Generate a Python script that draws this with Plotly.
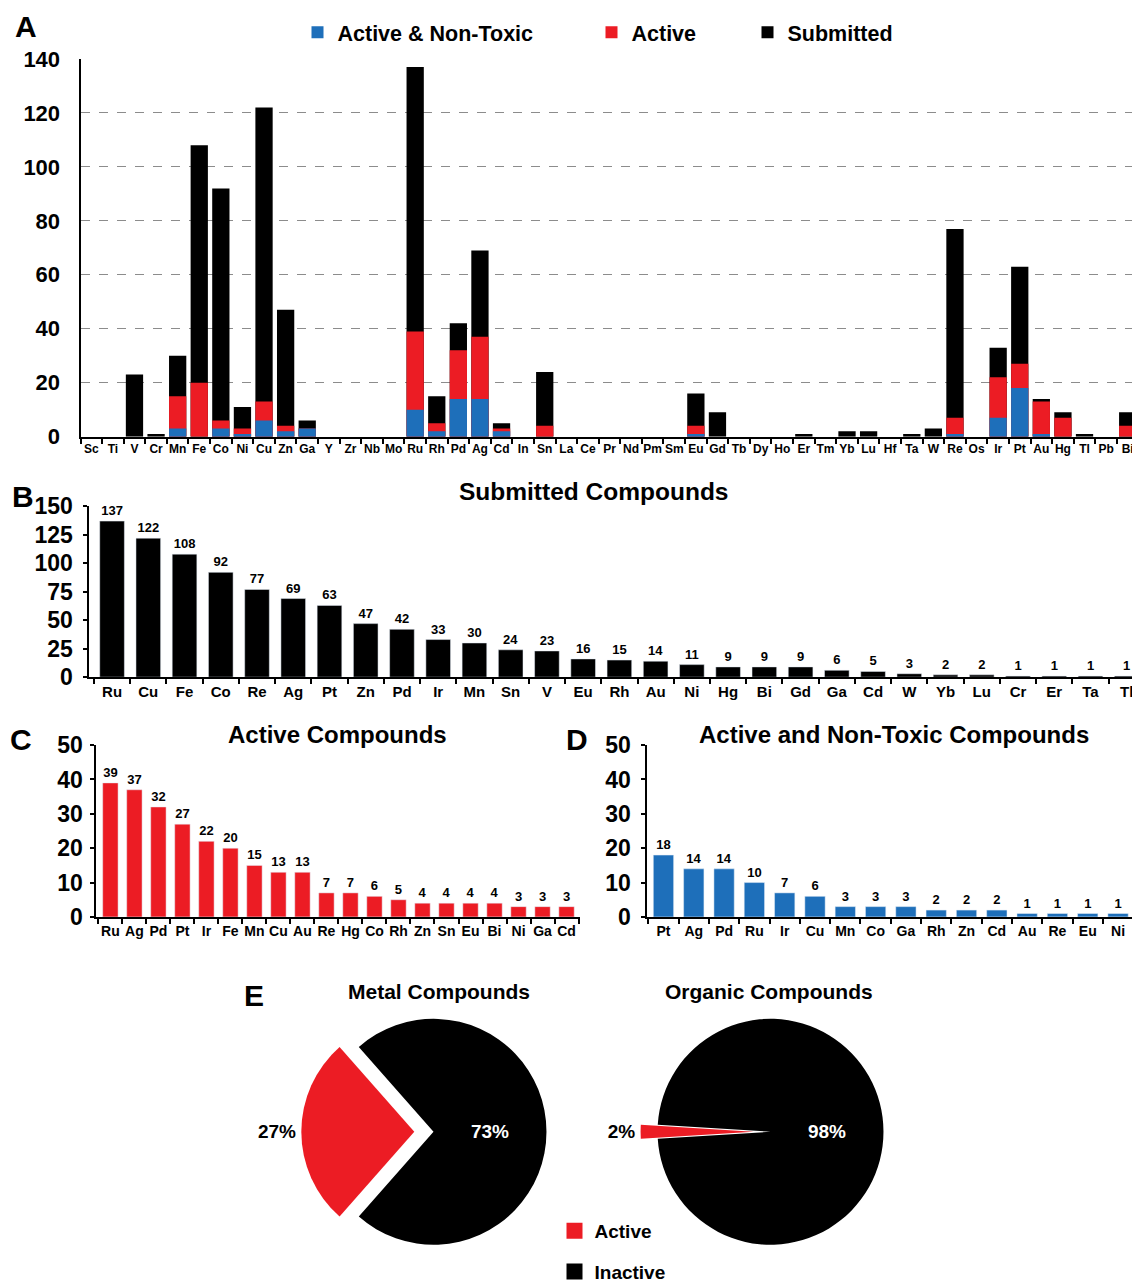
import plotly.graph_objects as go

# ---------------- data ----------------
elements_A = ["Sc","Ti","V","Cr","Mn","Fe","Co","Ni","Cu","Zn","Ga","Y","Zr","Nb","Mo",
              "Ru","Rh","Pd","Ag","Cd","In","Sn","La","Ce","Pr","Nd","Pm","Sm","Eu","Gd",
              "Tb","Dy","Ho","Er","Tm","Yb","Lu","Hf","Ta","W","Re","Os","Ir","Pt","Au",
              "Hg","Tl","Pb","Bi"]
submitted_A = [0,0,23,1,30,108,92,11,122,47,6,0,0,0,0,
               137,15,42,69,5,0,24,0,0,0,0,0,0,16,9,
               0,0,0,1,0,2,2,0,1,3,77,0,33,63,14,
               9,1,0,9]
active_A = [0,0,0,0,15,20,6,3,13,4,3,0,0,0,0,
            39,5,32,37,3,0,4,0,0,0,0,0,0,4,0,
            0,0,0,0,0,0,0,0,0,0,7,0,22,27,13,
            7,0,0,4]
nontoxic_A = [0,0,0,0,3,0,3,1,6,2,3,0,0,0,0,
              10,2,14,14,2,0,0,0,0,0,0,0,0,1,0,
              0,0,0,0,0,0,0,0,0,0,1,0,7,18,1,
              0,0,0,0]

elements_B = ["Ru","Cu","Fe","Co","Re","Ag","Pt","Zn","Pd","Ir","Mn","Sn","V","Eu","Rh",
              "Au","Ni","Hg","Bi","Gd","Ga","Cd","W","Yb","Lu","Cr","Er","Ta","Tl"]
values_B = [137,122,108,92,77,69,63,47,42,33,30,24,23,16,15,14,11,9,9,9,6,5,3,2,2,1,1,1,1]

elements_C = ["Ru","Ag","Pd","Pt","Ir","Fe","Mn","Cu","Au","Re","Hg","Co","Rh","Zn","Sn",
              "Eu","Bi","Ni","Ga","Cd"]
values_C = [39,37,32,27,22,20,15,13,13,7,7,6,5,4,4,4,4,3,3,3]

elements_D = ["Pt","Ag","Pd","Ru","Ir","Cu","Mn","Co","Ga","Rh","Zn","Cd","Au","Re","Eu","Ni"]
values_D = [18,14,14,10,7,6,3,3,3,2,2,2,1,1,1,1]

pie_labels = ["Active", "Inactive"]
metal_pct = [27, 73]
organic_pct = [2, 98]

BLUE = "#1E6FBA"
RED = "#EC1C24"
BLACK = "#000000"
FONT = "Liberation Sans, Arial, sans-serif"

W, H = 1140, 1283
# map target picture coordinates to figure coordinates
def X(px): return px - 7.5
def Y(py): return (py - 21.3) / 0.979
def fx(px): return X(px) / W
def fy(py): return 1 - Y(py) / H

fig = go.Figure()

# ---------------- Panel A ----------------
fig.add_trace(go.Bar(x=elements_A, y=submitted_A, name="Submitted", marker_color=BLACK,
                     width=0.8, xaxis="x", yaxis="y", legend="legend3", marker_line_width=0))
fig.add_trace(go.Bar(x=elements_A, y=active_A, name="Active", marker_color=RED,
                     width=0.8, xaxis="x", yaxis="y", legend="legend2", marker_line_width=0))
fig.add_trace(go.Bar(x=elements_A, y=nontoxic_A, name="Active & Non-Toxic", marker_color=BLUE,
                     width=0.8, xaxis="x", yaxis="y", legend="legend", marker_line_width=0))

# ---------------- Panels B, C, D ----------------
lbl_font = dict(family=FONT, size=13, color="black", weight="bold")
fig.add_trace(go.Bar(x=elements_B, y=values_B, marker_color=BLACK, width=0.68,
                     text=values_B, textposition="outside", textfont=lbl_font,
                     cliponaxis=False, showlegend=False, xaxis="x2", yaxis="y2"))
fig.add_trace(go.Bar(x=elements_C, y=values_C, marker_color=RED, width=0.64,
                     text=values_C, textposition="outside", textfont=lbl_font,
                     cliponaxis=False, showlegend=False, xaxis="x3", yaxis="y3"))
fig.add_trace(go.Bar(x=elements_D, y=values_D, marker_color=BLUE, width=0.67,
                     text=values_D, textposition="outside", textfont=lbl_font,
                     cliponaxis=False, showlegend=False, xaxis="x4", yaxis="y4"))

# ---------------- Panel E ----------------
pie_font_out = dict(family=FONT, size=19, color="black", weight="bold")
pie_font_in = dict(family=FONT, size=19, color="white", weight="bold")
R = 115.5
def pie_domain(cx, cy, pull):
    half = R * (1 + pull)
    x0, x1 = X(cx) - half, X(cx) + half
    y0, y1 = Y(cy) - half, Y(cy) + half
    return dict(x=[x0 / W, x1 / W], y=[1 - y1 / H, 1 - y0 / H])

for vals, cx, pull in [(metal_pct, 433, 0.17), (organic_pct, 770, 0.15)]:
    fig.add_trace(go.Pie(labels=pie_labels, values=vals, sort=False, direction="clockwise",
                         rotation=270 - vals[0] * 3.6 / 2,
                         marker=dict(colors=[RED, BLACK], line=dict(width=0)),
                         pull=[pull, 0], textinfo="percent",
                         textposition=["outside", "inside"],
                         outsidetextfont=pie_font_out, insidetextfont=pie_font_in,
                         domain=pie_domain(cx, 1133, pull), showlegend=False,
                         hoverinfo="label+percent"))

# legend entries of panel E (one group per label so the rows can be spaced)
for lab, col in zip(pie_labels, [RED, BLACK]):
    fig.add_trace(go.Scatter(x=[None], y=[None], mode="markers", name=lab,
                             marker=dict(symbol="square", size=22, color=col),
                             legend="legend4", legendgroup=lab, showlegend=True,
                             xaxis="x4", yaxis="y4", hoverinfo="skip"))

# ---------------- axes ----------------
def xax(x0, x1, rng, size):
    return dict(domain=[max(fx(x0), 0.0), min(fx(x1), 1.0)], type="category", range=rng,
                showline=True, linecolor="black", linewidth=2,
                ticks="outside", tickson="boundaries", ticklen=5, tickwidth=2, tickcolor="black",
                tickangle=0,
                tickfont=dict(family=FONT, size=size, color="black", weight="bold"),
                showgrid=False, zeroline=False, fixedrange=True)

def yax(y0, y1, rng, dtick, anchor, ticks="outside", grid=False, standoff=6, size=23):
    d = dict(domain=[fy(y0), fy(y1)], range=rng, dtick=dtick, showline=True,
             linecolor="black", linewidth=2,
             ticks=ticks, ticklen=4, tickwidth=2, tickcolor="black",
             ticklabelstandoff=standoff,
             tickfont=dict(family=FONT, size=size, color="black", weight="bold"),
             zeroline=False, anchor=anchor, fixedrange=True)
    if grid:
        d.update(showgrid=True, gridcolor="#8c8c8c", griddash="dash", gridwidth=1)
    else:
        d.update(showgrid=False)
    return d

layout = dict(
    width=W, height=H, margin=dict(l=0, r=0, t=0, b=0),
    paper_bgcolor="white", plot_bgcolor="white",
    barmode="overlay",
    font=dict(family=FONT, color="black"),
    xaxis=dict(xax(80, 1138, [-0.5, 48.5], 12), anchor="y"),
    yaxis=yax(437.3, 59.3, [0, 140], 20, "x", ticks="", grid=True, standoff=14, size=22),
    xaxis2=dict(xax(88, 1140, [-0.65, 28.38], 15), anchor="y2"),
    yaxis2=yax(678, 507, [0, 150], 25, "x2", standoff=5),
    xaxis3=dict(xax(95, 579, [-0.62, 19.54], 14), anchor="y3"),
    yaxis3=yax(918, 746, [0, 50], 10, "x3", standoff=2),
    xaxis4=dict(xax(646, 1133, [-0.56, 15.51], 14), anchor="y4"),
    yaxis4=yax(918, 746, [0, 50], 10, "x4", standoff=5),
    showlegend=True,
)

leg_font = dict(family=FONT, size=21.5, color="black", weight="bold")
for key, sq in [("legend", 317), ("legend2", 611), ("legend3", 767)]:
    layout[key] = dict(x=(X(sq) - 20) / W, y=1 - 11.5 / H, xanchor="left", yanchor="middle",
                       orientation="h", font=leg_font, bgcolor="rgba(0,0,0,0)",
                       itemclick=False, itemdoubleclick=False)
layout["legend4"] = dict(x=(X(574) - 20) / W, y=1 - (Y(1233) - 20) / H,
                         xanchor="left", yanchor="top", orientation="v",
                         tracegroupgap=13, itemsizing="trace",
                         font=dict(family=FONT, size=19, color="black", weight="bold"),
                         bgcolor="rgba(0,0,0,0)", itemclick=False, itemdoubleclick=False)

ann = []
def text(x, y, s, size, ypx=None):
    yy = fy(y) if ypx is None else 1 - ypx / H
    ann.append(dict(x=fx(x), y=yy, xref="paper", yref="paper", text=s, showarrow=False,
                    xanchor="center", yanchor="middle",
                    font=dict(family=FONT, size=size, color="black", weight="bold")))

text(26, 26, "A", 30, ypx=6)
text(22, 497, "B", 30)
text(20, 740, "C", 30)
text(576, 740, "D", 30)
text(253, 997, "E", 30)
text(593, 492, "Submitted Compounds", 24.5)
text(337, 735, "Active Compounds", 24)
text(893, 735, "Active and Non-Toxic Compounds", 24)
text(438, 993, "Metal Compounds", 21)
text(768, 993, "Organic Compounds", 21)
layout["annotations"] = ann

fig.update_layout(**layout)
fig.write_html("out.html", config=dict(displayModeBar=False))
